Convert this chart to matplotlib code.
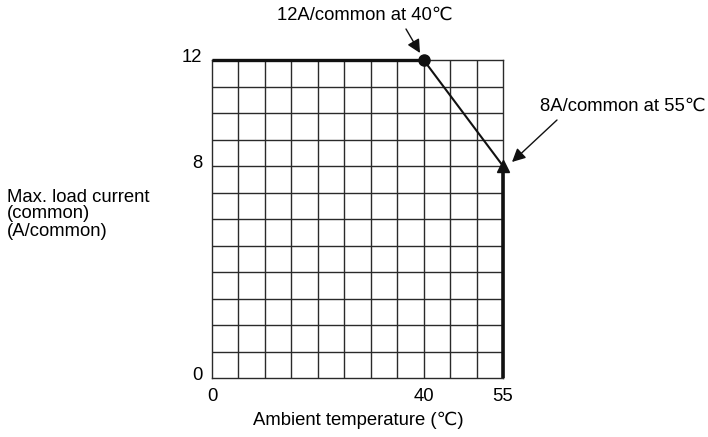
import numpy as np
import matplotlib.pyplot as plt
import matplotlib.transforms as mtransforms

plt.rcParams['font.family'] = ['Liberation Sans', 'DejaVu Sans']

# derating curve
temp = [0, 40, 55, 55]
current = [12, 12, 8, 0]
xticks = [0, 40, 55]
yticks = [0, 8, 12]

W, H = 708, 437
fs = 13.3

fig = plt.figure(figsize=(7.08, 4.37), dpi=100)
ax = fig.add_axes([212/W, 1-378/H, (503-212)/W, (378-60)/H])
ax.set_xlim(0, 55)
ax.set_ylim(0, 12)

# grid drawn by hand so lines at the labelled ticks are kept
for gx in np.arange(5, 55, 5):
    ax.axvline(gx, color='#2a2a2a', lw=1.0, zorder=1)
for gy in np.arange(1, 12, 1):
    ax.axhline(gy, color='#2a2a2a', lw=1.0, zorder=1)

ax.set_xticks(xticks)
ax.set_yticks(yticks)
ax.set_xticklabels([str(v) for v in xticks], fontsize=fs)
ax.set_yticklabels([str(v) for v in yticks], fontsize=fs)
ax.tick_params(which='both', length=0)
ax.tick_params(axis='x', pad=7)
ax.tick_params(axis='y', pad=7)
shift = mtransforms.ScaledTranslation(0, 5/100, fig.dpi_scale_trans)
for lab in ax.get_yticklabels():
    lab.set_transform(lab.get_transform() + shift)
for s in ax.spines.values():
    s.set_linewidth(1.0)
    s.set_color('#2a2a2a')

# bold segments and thin slope
ax.plot(temp[:2], current[:2], color='#111111', lw=2.4, solid_capstyle='butt', clip_on=False, zorder=3)
ax.plot(temp[1:3], current[1:3], color='#111111', lw=1.5, clip_on=False, zorder=3)
ax.plot(temp[2:], current[2:], color='#111111', lw=2.6, solid_capstyle='butt', clip_on=False, zorder=3)
ax.plot(temp[1], current[1], 'o', color='#111111', ms=8, clip_on=False, zorder=4)
ax.plot(temp[2], current[2], '^', color='#111111', ms=8, clip_on=False, zorder=4)

# callouts
fig.text(365/W, 1-15/H, '12A/common at 40℃', ha='center', va='center', fontsize=fs)
fig.text(623/W, 1-106/H, '8A/common at 55℃', ha='center', va='center', fontsize=fs)
arrow = dict(arrowstyle='-|>,head_length=0.5,head_width=0.25', color='#111111', lw=1.0,
             mutation_scale=16, shrinkA=0, shrinkB=0)
ax.annotate('', xy=(420/W, 1-53/H), xytext=(406/W, 1-29/H),
            xycoords='figure fraction', textcoords='figure fraction', arrowprops=arrow)
ax.annotate('', xy=(512/W, 1-162/H), xytext=(557/W, 1-120/H),
            xycoords='figure fraction', textcoords='figure fraction', arrowprops=arrow)

fig.text(358/W, 1-420/H, 'Ambient temperature (℃)', ha='center', va='center', fontsize=fs)
fig.text(7/W, 1-214/H, 'Max. load current\n(common)\n(A/common)', ha='left', va='center',
         fontsize=fs, linespacing=1.0)

fig.savefig('out.png', dpi=100)
